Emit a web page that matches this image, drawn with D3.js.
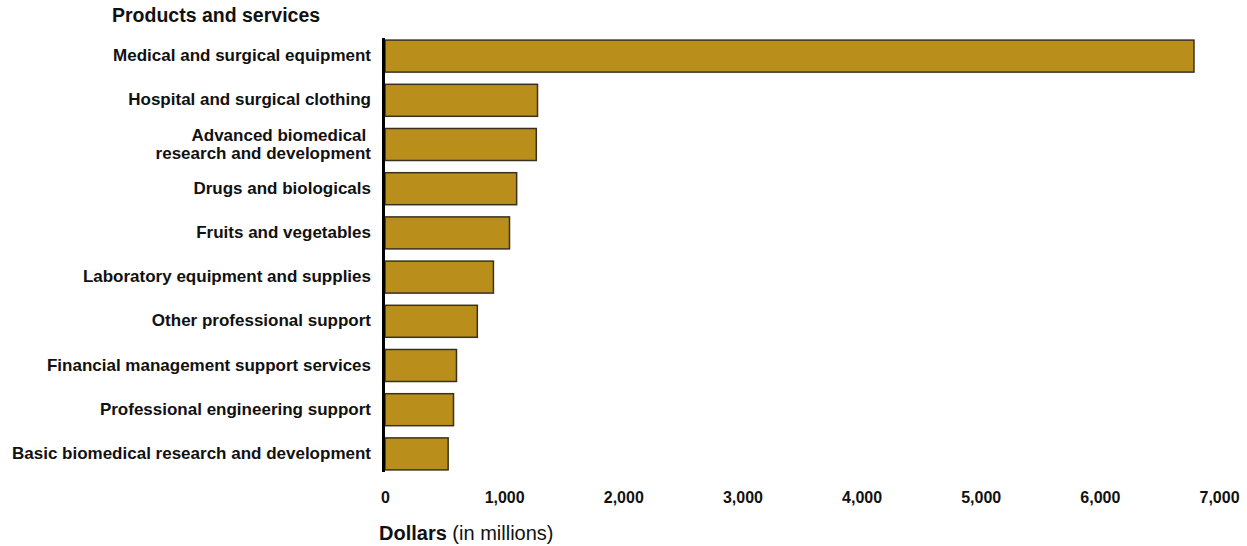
<!DOCTYPE html>
<html><head><meta charset="utf-8">
<script src="https://cdn.jsdelivr.net/npm/d3@7"></script>
<style>body{margin:0;background:#fff}svg{display:block}text{font-family:"Liberation Sans",Arial,sans-serif}</style>
</head><body>
<svg id="c" width="1247" height="546"></svg>
<script>
const categories = [
  ["Medical and surgical equipment"],
  ["Hospital and surgical clothing"],
  ["Advanced biomedical ", "research and development"],
  ["Drugs and biologicals"],
  ["Fruits and vegetables"],
  ["Laboratory equipment and supplies"],
  ["Other professional support"],
  ["Financial management support services"],
  ["Professional engineering support"],
  ["Basic biomedical research and development"]
];
const values = [6790, 1280, 1270, 1105, 1045, 910, 775, 600, 575, 530];
const tickValues = [0, 1000, 2000, 3000, 4000, 5000, 6000, 7000];
const titleText = "Products and services";
const axisTitleBold = "Dollars";
const axisTitleRest = " (in millions)";

const svg = d3.select("#c");
const x = d3.scaleLinear().domain([0, 7000]).range([385, 1219]);
const y = d3.scaleBand().domain(d3.range(categories.length)).range([34, 476]).paddingInner(0.276).paddingOuter(0.138);

svg.append("text").attr("x", 112).attr("y", 22).attr("font-size", 19.5).attr("font-weight", "bold").attr("fill", "#111").text(titleText);

svg.selectAll("rect.bar").data(values).join("rect").attr("class", "bar")
  .attr("x", x(0)).attr("y", (d, i) => y(i))
  .attr("width", d => x(d) - x(0)).attr("height", y.bandwidth())
  .attr("fill", "#BA8E1A").attr("stroke", "#3a3020").attr("stroke-width", 1.5);

// category labels
const lab = svg.selectAll("text.cat").data(categories).join("text").attr("class", "cat")
  .attr("text-anchor", "end").attr("font-size", 17).attr("font-weight", "bold").attr("fill", "#111")
  .attr("y", (d, i) => y(i) + y.bandwidth() / 2);
lab.each(function(d) {
  const t = d3.select(this);
  const n = d.length;
  d.forEach((line, k) => {
    t.append("tspan").attr("x", 371).attr("dy", k === 0 ? ((-(n - 1) / 2) * 1.06 + 0.3) + "em" : "1.06em").text(line);
  });
});

// axis
const ax = svg.append("g").attr("transform", "translate(0,497)")
  .call(d3.axisBottom(x).tickValues(tickValues).tickFormat(d3.format(",")).tickSize(0).tickPadding(0));
ax.select(".domain").remove();
ax.selectAll("text").attr("font-size", 16).attr("font-weight", "bold").attr("fill", "#111")
  .attr("font-family", "Liberation Sans, Arial, sans-serif").attr("dy", "0.35em");

// vertical axis line
svg.append("line").attr("x1", x(0) - 1.5).attr("x2", x(0) - 1.5).attr("y1", 38).attr("y2", 472)
  .attr("stroke", "#000").attr("stroke-width", 3);

const at = svg.append("text").attr("x", 379).attr("y", 540).attr("font-size", 20).attr("fill", "#111");
at.append("tspan").attr("font-weight", "bold").text(axisTitleBold);
at.append("tspan").text(axisTitleRest);
</script>
</body></html>
